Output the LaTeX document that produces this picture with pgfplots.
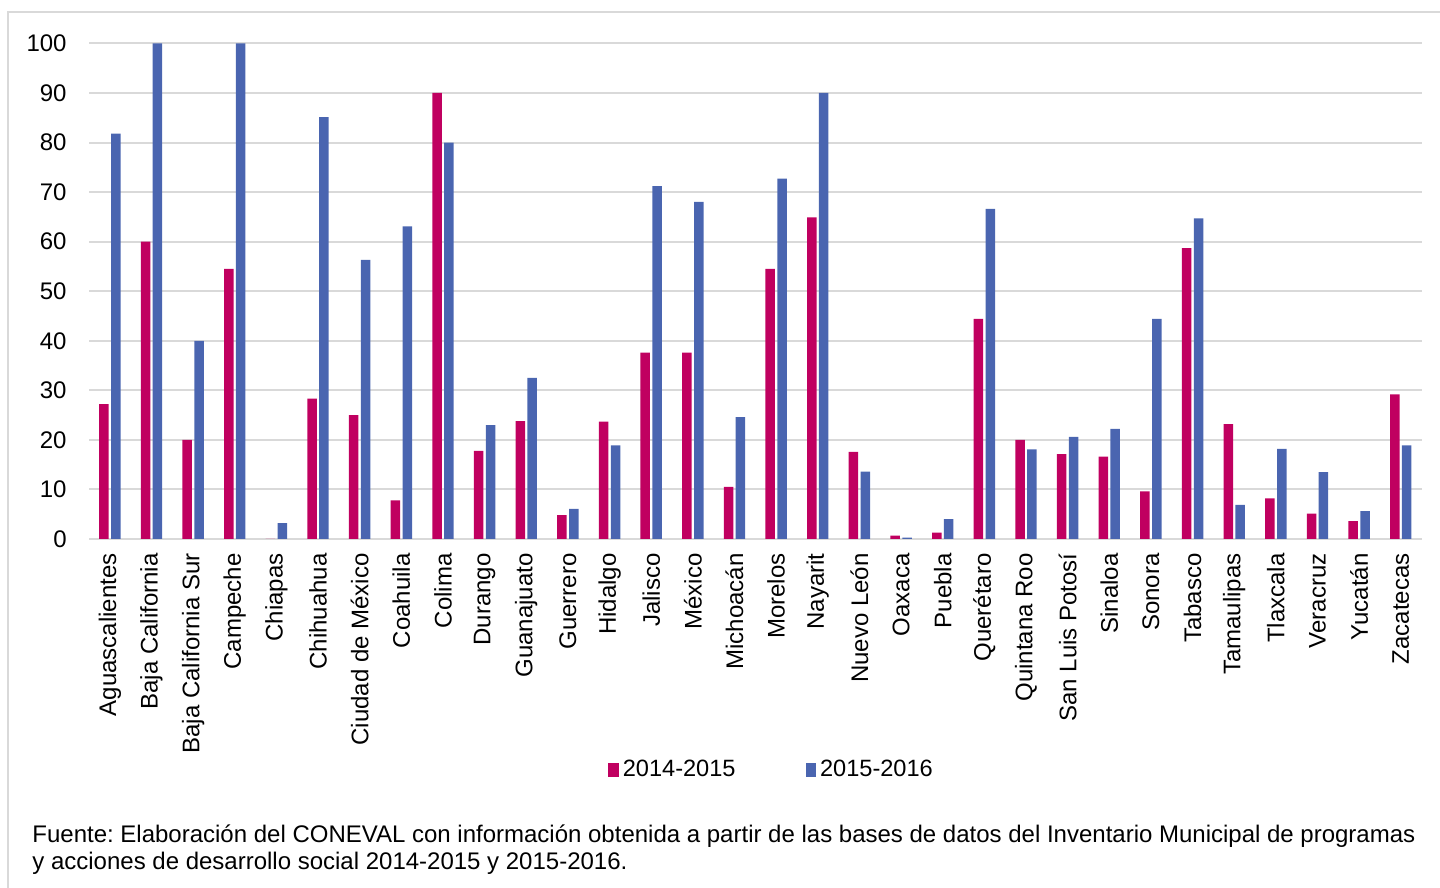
\documentclass[border=0pt]{standalone}
\usepackage{pgfplots}
\pgfplotsset{compat=1.18}
\usepackage{fontspec}
\setmainfont{Liberation Sans}
\frenchspacing
\definecolor{cmag}{HTML}{C00060}
\definecolor{cblue}{HTML}{4A65B0}
\definecolor{cgrid}{HTML}{D9D9D9}
\begin{document}
\begin{tikzpicture}[x=1pt,y=1pt]
\draw[cgrid, line width=0.9pt] (4pt,-10pt) -- (4pt,438pt) -- (730pt,438pt);
\begin{axis}[
  at={(44.5pt,174.5pt)}, anchor=south west,
  scale only axis, width=666.3pt, height=247.8pt,
  ymin=0, ymax=100, ytick={0,10,...,100},
  xmin=-0.5, xmax=31.5, xtick={0,...,31},
  xticklabels={Aguascalientes,Baja California,Baja California Sur,Campeche,Chiapas,Chihuahua,Ciudad de México,Coahuila,Colima,Durango,Guanajuato,Guerrero,Hidalgo,Jalisco,México,Michoacán,Morelos,Nayarit,Nuevo León,Oaxaca,Puebla,Querétaro,Quintana Roo,San Luis Potosí,Sinaloa,Sonora,Tabasco,Tamaulipas,Tlaxcala,Veracruz,Yucatán,Zacatecas},
  major tick length=0pt,
  axis x line*=bottom, axis y line*=left,
  x axis line style={cgrid, line width=1pt, -},
  y axis line style={draw=none},
  ymajorgrids, grid style={cgrid, line width=1pt},
  yticklabel style={font=\fontsize{12}{14}\selectfont, anchor=east, inner sep=0pt, xshift=-11pt},
  xticklabel style={font=\fontsize{12}{14}\selectfont, yshift=-7pt, rotate=90, anchor=east, inner sep=0pt},
  /pgf/number format/assume math mode=true,
  ybar=1.2pt, bar width=4.75pt,
  legend columns=2,
  legend style={at={(0.513,-0.466)}, anchor=center, draw=none, fill=none,
    font=\fontsize{11.8}{14}\selectfont,
    /tikz/every even column/.append style={column sep=33pt}},
  legend image code/.code={\fill[#1] (0pt,-3.3pt) rectangle (5.2pt,3.3pt);},
]
\addplot[fill=cmag, draw=none] coordinates {
(0,27.2) (1,60.0) (2,20.0) (3,54.5) (4,0) (5,28.3) (6,25.0) (7,7.8) (8,90.0)
(9,17.8) (10,23.8) (11,4.8) (12,23.7) (13,37.6) (14,37.6) (15,10.5) (16,54.5) (17,64.9)
(18,17.6) (19,0.7) (20,1.3) (21,44.4) (22,20.0) (23,17.1) (24,16.6) (25,9.6) (26,58.7)
(27,23.2) (28,8.2) (29,5.1) (30,3.6) (31,29.2)};
\addplot[fill=cblue, draw=none] coordinates {
(0,81.8) (1,100) (2,40.0) (3,100) (4,3.2) (5,85.1) (6,56.3) (7,63.1) (8,80.0)
(9,23.0) (10,32.5) (11,6.1) (12,18.9) (13,71.2) (14,68.0) (15,24.6) (16,72.7) (17,90.0)
(18,13.6) (19,0.3) (20,4.0) (21,66.6) (22,18.1) (23,20.6) (24,22.2) (25,44.4) (26,64.7)
(27,6.9) (28,18.2) (29,13.5) (30,5.6) (31,18.9)};
\legend{2014-2015,2015-2016}
\end{axis}
\node[anchor=base west, inner sep=0pt, font=\fontsize{12}{13.8}\selectfont] at (16pt,22.85pt) {Fuente: Elaboración del CONEVAL con información obtenida a partir de las bases de datos del Inventario Municipal de programas};
\node[anchor=base west, inner sep=0pt, font=\fontsize{12}{13.8}\selectfont] at (16pt,9pt) {y acciones de desarrollo social 2014-2015 y 2015-2016.};
\pgfresetboundingbox
\path[use as bounding box] (0pt,0pt) rectangle (720pt,444pt);
\end{tikzpicture}
\end{document}
